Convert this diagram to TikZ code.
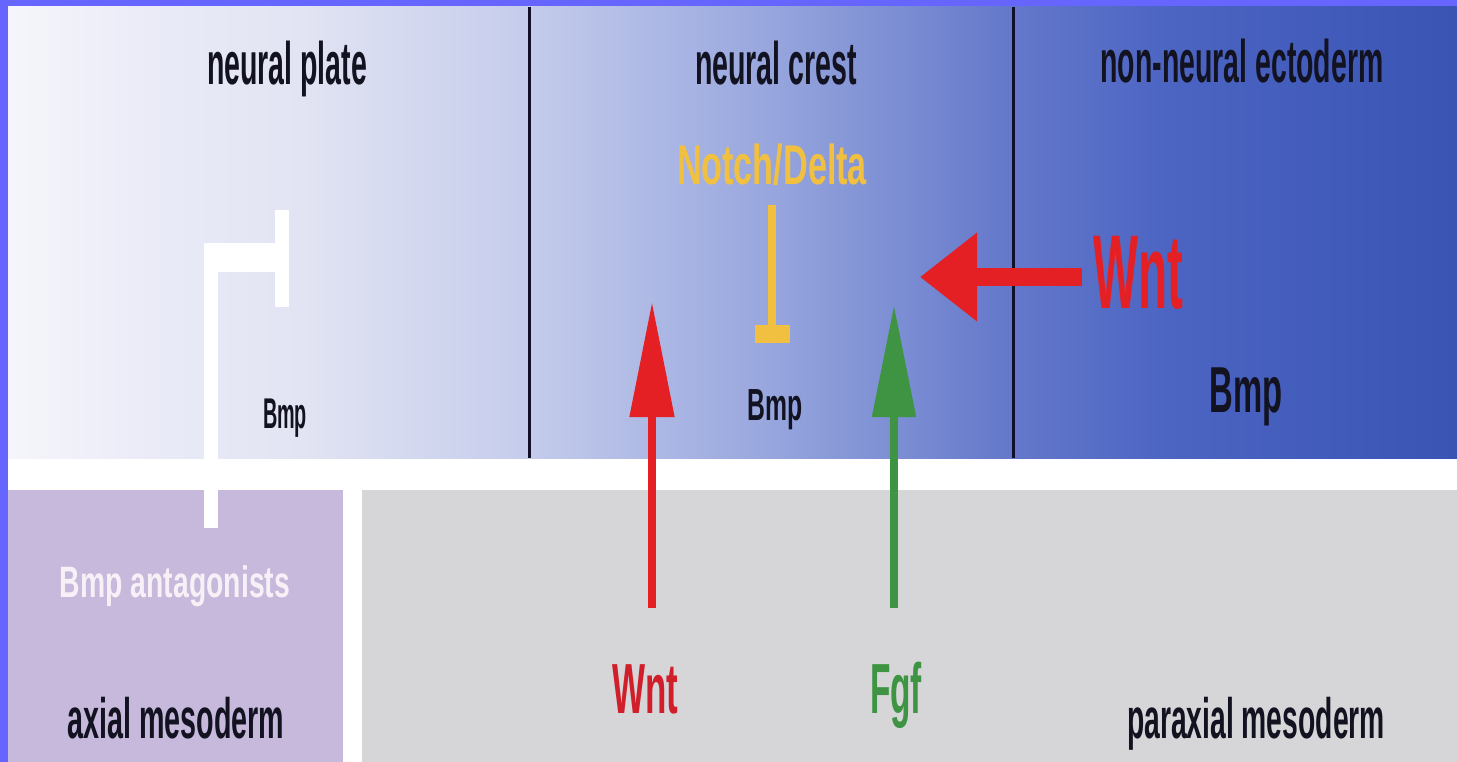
\documentclass[tikz,border=0pt]{standalone}
\usepackage{fontspec}
\setmainfont{Liberation Sans}
\usetikzlibrary{arrows.meta}

% text squeezed to a given width, natural height kept
\newcommand\fitw[2]{\resizebox{#1}{\height}{#2}}

\definecolor{frameblue}{RGB}{102,102,255}
\definecolor{axialpurple}{RGB}{198,185,219}
\definecolor{paraxgray}{RGB}{214,214,217}
\definecolor{inkdark}{RGB}{18,18,32}
\definecolor{wntred}{RGB}{228,32,36}
\definecolor{wntlowred}{RGB}{208,30,42}
\definecolor{fgfgreen}{RGB}{62,148,66}
\definecolor{notchyellow}{RGB}{242,192,64}
\definecolor{divider}{RGB}{16,16,40}

% ectoderm gradient stops
\definecolor{ecA}{RGB}{245,245,251}
\definecolor{ecB}{RGB}{234,235,247}
\definecolor{ecC}{RGB}{226,228,243}
\definecolor{ecD}{RGB}{198,205,236}
\definecolor{ecE}{RGB}{150,165,221}
\definecolor{ecF}{RGB}{102,122,203}
\definecolor{ecG}{RGB}{76,101,195}
\definecolor{ecH}{RGB}{58,84,180}

% pale at the neural plate, deep blue at the non-neural side
\pgfdeclarehorizontalshading{ectoderm}{100bp}{
  color(0bp)=(ecA);
  color(25bp)=(ecA);
  color(29.9bp)=(ecB);
  color(35.1bp)=(ecC);
  color(42.7bp)=(ecD);
  color(51.5bp)=(ecE);
  color(59.2bp)=(ecF);
  color(65bp)=(ecG);
  color(75bp)=(ecH);
  color(100bp)=(ecH)}

\tikzset{
  lbl/.style={inner sep=0pt, anchor=base, text=inkdark,
    font=\fontsize{60}{72}\selectfont\bfseries},
  sig/.style={inner sep=0pt, anchor=base, font=\bfseries},
  actarrow/.style={line width=8pt},
}

\begin{document}
\begin{tikzpicture}[x=1pt,y=-1pt]
\useasboundingbox (0,0) rectangle (1457,762);
\fill[white] (0,0) rectangle (1457,762);

% frame on the top and left edges
\fill[frameblue] (0,0) rectangle (1457,7);
\fill[frameblue] (0,0) rectangle (8,762);

% ectoderm band
\shade[shading=ectoderm] (8,7) rectangle (1457,458);

% mesoderm blocks
\fill[axialpurple] (8,490) rectangle (343,762);
\fill[paraxgray] (362,490) rectangle (1457,762);

% borders between ectoderm domains
\fill[divider] (527.5,7) rectangle (530.5,458);
\fill[divider] (1011.5,7) rectangle (1014.5,458);

% Bmp antagonists inhibiting Bmp in the neural plate
\fill[white] (204,243) rectangle (218,528);
\fill[white] (204,243) rectangle (282,272);
\fill[white] (275,210) rectangle (289,307);

% domain labels
\node[lbl] (np) at (287,85) {\fitw{160pt}{neural plate}};
\node[lbl] (nc) at (776,85) {\fitw{162pt}{neural crest}};
\node[lbl] (nne) at (1242,83) {\fitw{283pt}{non-neural ectoderm}};
\node[lbl, font=\fontsize{57}{68}\selectfont\bfseries] (axm) at (176,738) {\fitw{217pt}{axial mesoderm}};
\node[lbl, font=\fontsize{57}{68}\selectfont\bfseries] (pxm) at (1256,738) {\fitw{258pt}{paraxial mesoderm}};

% Bmp levels
\node[lbl, font=\fontsize{43}{52}\selectfont\bfseries] (bmpA) at (285,428) {\fitw{44pt}{Bmp}};
\node[lbl, font=\fontsize{45}{54}\selectfont\bfseries] (bmpB) at (775,420) {\fitw{55pt}{Bmp}};
\node[lbl, font=\fontsize{65}{78}\selectfont\bfseries] (bmpC) at (1246,412) {\fitw{73pt}{Bmp}};

% signals
\node[sig, text=white!94!violet, font=\fontsize{44}{52}\selectfont\bfseries] (antag) at (175,597) {\fitw{230pt}{Bmp antagonists}};
\node[sig, text=notchyellow, font=\fontsize{56}{66}\selectfont\bfseries] (nd) at (772,185) {\fitw{190pt}{Notch/Delta}};
\node[sig, text=wntred, font=\fontsize{105}{120}\selectfont\bfseries] (wntR) at (1138,308) {\fitw{90pt}{Wnt}};
\node[sig, text=wntlowred, font=\fontsize{71}{84}\selectfont\bfseries] (wntL) at (645,713) {\fitw{66pt}{Wnt}};
\node[sig, text=fgfgreen, font=\fontsize{71}{84}\selectfont\bfseries] (fgf) at (896,713) {\fitw{52pt}{Fgf}};

% arrow end points
\coordinate (wntLtail) at (652,608);
\coordinate (wntLtip) at (652,302);
\coordinate (fgftail) at (894,608);
\coordinate (fgftip) at (894,305);
\coordinate (wntRtail) at (1082,277);
\coordinate (wntRtip) at (920,277);
\coordinate (ndtail) at (772,205);
\coordinate (ndend) at (772,343);

\draw[actarrow, wntred, -{Triangle[width=43pt,length=115pt]}] (wntLtail) -- (wntLtip);
\draw[actarrow, fgfgreen, -{Triangle[width=42pt,length=112pt]}] (fgftail) -- (fgftip);
\draw[wntred, line width=17pt, -{Triangle[width=85pt,length=57pt]}] (wntRtail) -- (wntRtip);
\draw[notchyellow, line width=8pt, -{Rectangle[width=35pt,length=18pt]}] (ndtail) -- (ndend);
\end{tikzpicture}
\end{document}
